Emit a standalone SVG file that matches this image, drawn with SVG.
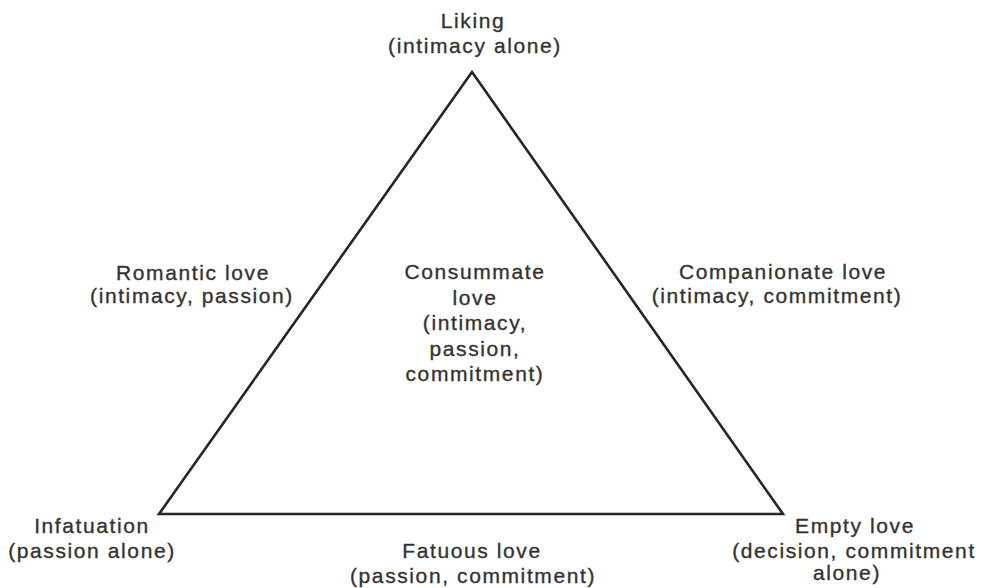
<svg xmlns="http://www.w3.org/2000/svg" width="981" height="588" viewBox="0 0 981 588">
<style>
text{font-family:"Liberation Sans",Arial,Helvetica,sans-serif;font-size:21px;fill:#333;stroke:#333;stroke-width:0.35;text-anchor:middle;letter-spacing:1.6px}
.edge{fill:none;stroke:#262626;stroke-width:2.6;stroke-linejoin:miter}
</style>
<rect width="981" height="588" fill="#fff"/>
<g id="connectors">
<polygon class="edge" points="472,72 783,514 159,514"/>
</g>
<g id="liking"><text x="473" y="28">Liking</text><text x="475" y="53">(intimacy alone)</text></g>
<g id="romantic"><text x="193" y="280">Romantic love</text><text x="192" y="303">(intimacy, passion)</text></g>
<g id="consummate"><text x="475" y="279">Consummate</text><text x="475" y="305">love</text><text x="475" y="330">(intimacy,</text><text x="475" y="356">passion,</text><text x="475" y="381">commitment)</text></g>
<g id="companionate"><text x="783" y="279">Companionate love</text><text x="777" y="303">(intimacy, commitment)</text></g>
<g id="infatuation"><text x="92" y="533">Infatuation</text><text x="92" y="558">(passion alone)</text></g>
<g id="fatuous"><text x="472" y="558">Fatuous love</text><text x="473" y="583">(passion, commitment)</text></g>
<g id="empty"><text x="855" y="533">Empty love</text><text x="854" y="558">(decision, commitment</text><text x="847" y="580">alone)</text></g>
</svg>
